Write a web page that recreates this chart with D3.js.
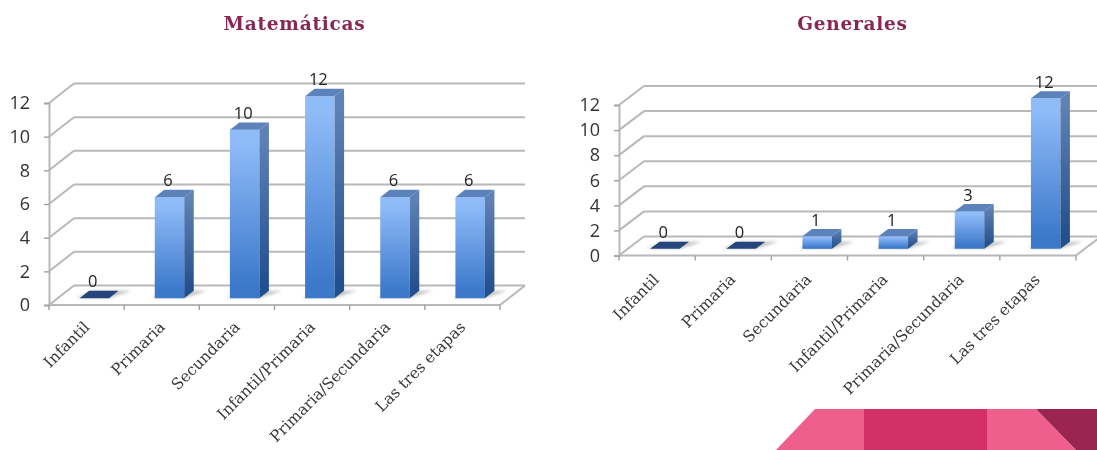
<!DOCTYPE html>
<html><head><meta charset="utf-8">
<script src="https://cdn.jsdelivr.net/npm/d3@7"></script>
<style>html,body{margin:0;padding:0;background:#fff;overflow:hidden}svg{display:block}</style>
</head><body><svg id="c" width="1097" height="450"></svg>
<script>
const categories = ["Infantil","Primaria","Secundaria","Infantil/Primaria","Primaria/Secundaria","Las tres etapas"];
const matematicasValues = [0,6,10,12,6,6];
const generalesValues = [0,0,1,1,3,12];
const yTicks = [0,2,4,6,8,10,12];

const svg = d3.select("#c");
const defs = svg.append("defs");
function grad(id, c0, c1){
  const g = defs.append("linearGradient").attr("id",id).attr("x1",0).attr("y1",0).attr("x2",0).attr("y2",1);
  g.append("stop").attr("offset","8%").attr("stop-color",c0);
  g.append("stop").attr("offset","92%").attr("stop-color",c1);
}
grad("front","#8fbbf8","#3c79cb");
grad("side","#5f82b4","#234f8d");
defs.append("filter").attr("id","soft").attr("x","-30%").attr("y","-80%").attr("width","160%").attr("height","260%")
  .append("feGaussianBlur").attr("stdDeviation",1.8);
defs.append("filter").attr("id","txt").attr("filterUnits","userSpaceOnUse").attr("x",0).attr("y",0).attr("width",1097).attr("height",450)
  .append("feGaussianBlur").attr("stdDeviation",0.45);

// decorative footer
const deco = svg.append("g");
[[ "#ee5f8e", [[776,450],[815,409],[864,409],[864,450]] ],
 [ "#d23067", [[864,450],[864,409],[987,409],[987,450]] ],
 [ "#ee5f8e", [[987,450],[987,409],[1036,409],[1076,450]] ],
 [ "#9c2450", [[1036,409],[1097,409],[1097,450],[1076,450]] ]
].forEach(([f,p])=>deco.append("polygon").attr("fill",f).attr("points",p.join(" ")));

function chart(o){
  const g = svg.append("g").attr("filter","url(#txt)");
  const x = d3.scaleBand().domain(categories).range([o.x0,o.x1]);
  const y = d3.scaleLinear().domain([0,12]).range([o.y0,o.y12]);
  const P = (px,v,z)=>[px+z*o.dx, y(v)+z*o.dy];
  const line = (a,b,w=2,c="#b8b8b8")=>g.append("line").attr("x1",a[0]).attr("y1",a[1]).attr("x2",b[0]).attr("y2",b[1]).attr("stroke",c).attr("stroke-width",w);

  g.append("text").attr("x",o.titleX).attr("y",30).attr("text-anchor","middle")
    .attr("font-family","DejaVu Serif").attr("font-weight","bold").attr("font-size",18.5).attr("letter-spacing",0.75)
    .attr("fill","#8a2552").text(o.title);

  // walls, floor
  yTicks.forEach(t=>{
    line(P(o.x0,t,0),P(o.x0,t,1));
    line(P(o.x0,t,1),P(o.x1,t,1));
  });
  line(P(o.x1,0,0),P(o.x1,0,1));
  line(P(o.x0,0,0),P(o.x1,0,0),2.2);

  // axes
  const ax = g.append("g").attr("transform",`translate(${o.x0},0)`)
    .call(d3.axisLeft(y).tickValues(yTicks).tickSize(5).tickPadding(14));
  ax.select(".domain").attr("stroke","#b8b8b8").attr("stroke-width",2);
  ax.selectAll(".tick line").attr("stroke","#a0a0a0").attr("stroke-width",1.4);
  ax.selectAll("text").attr("font-family","Open Sans").attr("font-size",o.tickFont).attr("fill","#333");

  // x tick marks at band edges
  d3.range(categories.length+1).forEach(i=>{
    const px = o.x0 + i*x.step();
    line([px,o.y0],[px,o.y0+5],1.4,"#a0a0a0");
  });

  const zF=0.35, zB=0.73, w=29.5;
  const bars = g.selectAll("g.bar").data(categories.map((c,i)=>({c,v:o.values[i]}))).join("g").attr("class","bar");
  bars.each(function(d){
    const b = d3.select(this);
    const l = x(d.c)+x.bandwidth()/2-w/2-1, r = l+w;
    const poly = (pts,f,extra)=>{const e=b.append("polygon").attr("points",pts.join(" ")).attr("fill",f); if(extra) e.attr("filter",extra); return e;};
    poly([P(l-4,0,zF+0.02),P(r+1,0,zF+0.02),P(r+13,0,zB),P(l+4,0,zB)],"#c4c4c4","url(#soft)");
    if(d.v===0){
      poly([P(l,0,zF),P(r,0,zF),P(r,0,zB),P(l,0,zB)],"#26457c");
    } else {
      poly([P(l,d.v,zF),P(r,d.v,zF),P(r,0,zF),P(l,0,zF)],"url(#front)");
      poly([P(r,d.v,zF),P(r,d.v,zB),P(r,0,zB),P(r,0,zF)],"url(#side)");
      poly([P(l,d.v,zF),P(l,d.v,zB),P(r,d.v,zB),P(r,d.v,zF)],"#5b82bb");
    }
    const top = P(l+w/2,d.v,zB);
    b.append("text").attr("x",top[0]-11).attr("y",top[1]-3.5).attr("text-anchor","middle")
      .attr("font-family","Open Sans").attr("font-size",16.5).attr("fill","#222").text(d.v);
  });

  // category labels
  g.selectAll("text.cat").data(categories).join("text").attr("class","cat")
    .attr("transform",d=>`translate(${x(d)+x.bandwidth()/2+o.labDx},${o.y0+o.labDy}) rotate(-45)`)
    .attr("text-anchor","end").attr("font-family","DejaVu Serif").attr("font-size",15.5)
    .attr("fill","#383838").text(d=>d);
}

chart({title:"Matemáticas",titleX:294.5,values:matematicasValues,x0:49,x1:500,y0:305,y12:103,dx:25,dy:-19.5,tickFont:18,labDx:4,labDy:23});
chart({title:"Generales",titleX:852.5,values:generalesValues,x0:619,x1:1076,y0:255.5,y12:105,dx:25,dy:-19,tickFont:18,labDx:3,labDy:25});
</script></body></html>
